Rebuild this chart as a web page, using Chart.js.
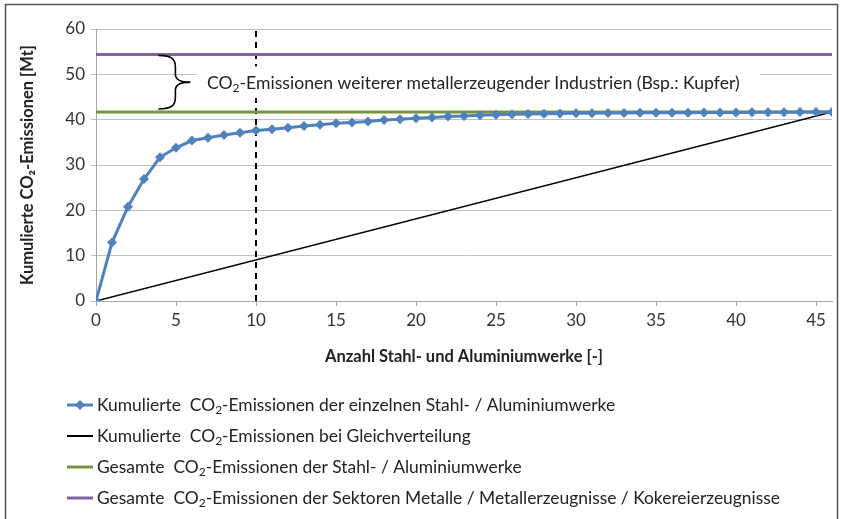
<!DOCTYPE html>
<html>
<head>
<meta charset="utf-8">
<script src="https://cdn.jsdelivr.net/npm/chart.js@4.4.1/dist/chart.umd.min.js"></script>
<style>
html, body { margin: 0; padding: 0; background: #fff; overflow: hidden; }
</style>
</head>
<body>
<canvas id="myChart" width="845" height="519"></canvas>
<script>
// Anzahl Werke (x) und kumulierte Emissionen (y, Mt)
var werke = [0, 1, 2, 3, 4, 5, 6, 7, 8, 9, 10, 11, 12, 13, 14, 15, 16, 17, 18, 19, 20, 21, 22, 23,
    24, 25, 26, 27, 28, 29, 30, 31, 32, 33, 34, 35, 36, 37, 38, 39, 40, 41, 42, 43, 44, 45, 46];
var kumuliert = [0, 12.9, 20.8, 26.9, 31.7, 33.8, 35.4, 36.0, 36.6, 37.1, 37.6, 37.9, 38.2, 38.6, 38.9,
    39.2, 39.4, 39.6, 39.9, 40.1, 40.3, 40.5, 40.7, 40.8, 41.0, 41.1, 41.2, 41.25, 41.3, 41.35, 41.4,
    41.4, 41.45, 41.45, 41.5, 41.5, 41.55, 41.55, 41.6, 41.6, 41.6, 41.65, 41.65, 41.65, 41.7, 41.7, 41.7];
var gesamtStahlAlu = 41.7;
var gesamtSektoren = 54.4;
var markierung = 10;
var xTicks = [0, 5, 10, 15, 20, 25, 30, 35, 40, 45];
var yTicks = [0, 10, 20, 30, 40, 50, 60];

var legendParts = [
    ['Kumulierte  ', '-Emissionen der einzelnen Stahl- / Aluminiumwerke'],
    ['Kumulierte  ', '-Emissionen bei Gleichverteilung'],
    ['Gesamte  ', '-Emissionen der Stahl- / Aluminiumwerke'],
    ['Gesamte  ', '-Emissionen der Sektoren Metalle / Metallerzeugnisse / Kokereierzeugnisse']
];
var annotationText = '-Emissionen weiterer metallerzeugender Industrien (Bsp.: Kupfer)';

var FONT = 'Lato, "Open Sans", sans-serif';
var lastX = werke[werke.length - 1];

// text with CO + subscript 2
function drawCO2(ctx, pre, post, x, y, size) {
    ctx.font = size + 'px ' + FONT;
    ctx.textBaseline = 'middle';
    ctx.textAlign = 'left';
    ctx.fillText(pre + 'CO', x, y);
    x += ctx.measureText(pre + 'CO').width;
    ctx.font = Math.round(size * 0.68) + 'px ' + FONT;
    ctx.fillText('2', x, y + size * 0.3);
    x += ctx.measureText('2').width;
    ctx.font = size + 'px ' + FONT;
    ctx.fillText(post, x, y);
}

var extras = {
    id: 'extras',
    beforeDraw: function (chart) {
        var ctx = chart.ctx;
        ctx.save();
        ctx.strokeStyle = '#555';
        ctx.lineWidth = 1.5;
        ctx.strokeRect(5.5, 4.5, 832, 600);
        ctx.restore();
    },
    afterDatasetsDraw: function (chart) {
        var ctx = chart.ctx;
        var xs = chart.scales.x, ys = chart.scales.y;
        var yT = ys.getPixelForValue(gesamtSektoren) + 1;
        var yB = ys.getPixelForValue(gesamtStahlAlu) - 3;
        var yM = (yT + yB) / 2;
        ctx.save();
        ctx.fillStyle = '#fff';
        ctx.fillRect(196, yT + 11, 564, yB - yT - 22);
        var x0 = xs.getPixelForValue(3.9);
        ctx.strokeStyle = '#000';
        ctx.lineWidth = 1.6;
        ctx.beginPath();
        ctx.moveTo(x0, yT);
        ctx.bezierCurveTo(x0 + 14, yT, x0 + 17, yT + 4, x0 + 17, yT + 12);
        ctx.lineTo(x0 + 17, yM - 8);
        ctx.bezierCurveTo(x0 + 17, yM - 2, x0 + 22, yM, x0 + 32, yM);
        ctx.moveTo(x0 + 32, yM);
        ctx.bezierCurveTo(x0 + 22, yM, x0 + 17, yM + 2, x0 + 17, yM + 8);
        ctx.lineTo(x0 + 17, yB - 12);
        ctx.bezierCurveTo(x0 + 17, yB - 4, x0 + 14, yB, x0, yB);
        ctx.stroke();
        ctx.fillStyle = '#222';
        drawCO2(ctx, '', annotationText, 207, yM + 1, 17.6);
        ctx.restore();
    },
    afterDraw: function (chart) {
        var ctx = chart.ctx;
        ctx.save();
        chart.data.datasets.slice(0, 4).forEach(function (ds, i) {
            var y = 405 + i * 31;
            ctx.strokeStyle = ds.borderColor;
            ctx.lineWidth = i === 1 ? 2 : 3;
            ctx.beginPath();
            ctx.moveTo(67, y);
            ctx.lineTo(93, y);
            ctx.stroke();
            if (i === 0) {
                ctx.fillStyle = ds.borderColor;
                ctx.beginPath();
                ctx.moveTo(80, y - 5);
                ctx.lineTo(85, y);
                ctx.lineTo(80, y + 5);
                ctx.lineTo(75, y);
                ctx.closePath();
                ctx.fill();
            }
            ctx.fillStyle = '#222';
            drawCO2(ctx, legendParts[i][0], legendParts[i][1], 97, y, 17.4);
        });
        ctx.restore();
    }
};

var ctx = document.getElementById('myChart').getContext('2d');
var myChart = new Chart(ctx, {
    type: 'line',
    data: {
        datasets: [{
            label: 'Kumulierte CO₂-Emissionen der einzelnen Stahl- / Aluminiumwerke',
            data: werke.map(function (w, i) { return { x: w, y: kumuliert[i] }; }),
            borderColor: '#4F81BD',
            backgroundColor: '#4F81BD',
            borderWidth: 3,
            pointStyle: 'rectRot',
            pointRadius: 5,
            pointBorderWidth: 0,
            tension: 0,
            order: 1
        }, {
            label: 'Kumulierte CO₂-Emissionen bei Gleichverteilung',
            data: [{ x: 0, y: 0 }, { x: lastX, y: gesamtStahlAlu }],
            borderColor: '#000000',
            borderWidth: 1.5,
            pointRadius: 0,
            order: 3
        }, {
            label: 'Gesamte CO₂-Emissionen der Stahl- / Aluminiumwerke',
            data: [{ x: 0, y: gesamtStahlAlu }, { x: lastX, y: gesamtStahlAlu }],
            borderColor: '#77933C',
            borderWidth: 3,
            pointRadius: 0,
            order: 2
        }, {
            label: 'Gesamte CO₂-Emissionen der Sektoren Metalle / Metallerzeugnisse / Kokereierzeugnisse',
            data: [{ x: 0, y: gesamtSektoren }, { x: lastX, y: gesamtSektoren }],
            borderColor: '#8064A2',
            borderWidth: 3,
            pointRadius: 0,
            order: 2
        }, {
            label: 'Markierung',
            data: [{ x: markierung, y: 0 }, { x: markierung, y: 60 }],
            borderColor: '#000000',
            borderWidth: 2,
            borderDash: [6, 5],
            pointRadius: 0,
            order: 4
        }]
    },
    options: {
        responsive: false,
        animation: false,
        devicePixelRatio: 1,
        layout: {
            padding: { left: 18, right: 13, top: 29, bottom: 148 }
        },
        plugins: {
            legend: { display: false },
            tooltip: { enabled: false }
        },
        scales: {
            x: {
                type: 'linear',
                min: 0,
                max: lastX,
                afterBuildTicks: function (scale) {
                    scale.ticks = xTicks.map(function (v) { return { value: v }; });
                },
                afterFit: function (scale) { scale.height = 70; },
                grid: {
                    drawOnChartArea: false,
                    drawTicks: true,
                    tickLength: 5,
                    color: '#a6a6a6'
                },
                border: { color: '#a6a6a6', width: 1 },
                ticks: {
                    color: '#333',
                    padding: 4,
                    font: { family: FONT, size: 17 },
                    maxRotation: 0
                },
                title: {
                    display: true,
                    text: 'Anzahl Stahl- und Aluminiumwerke [-]',
                    color: '#222',
                    font: { family: FONT, size: 16.5, weight: 'bold' },
                    padding: { top: 4 }
                }
            },
            y: {
                min: 0,
                max: 60,
                afterBuildTicks: function (scale) {
                    scale.ticks = yTicks.map(function (v) { return { value: v }; });
                },
                afterFit: function (scale) { scale.width = 78; },
                grid: {
                    color: '#bfbfbf',
                    tickLength: 5,
                    lineWidth: 1
                },
                border: { color: '#a6a6a6', width: 1 },
                ticks: {
                    color: '#333',
                    padding: 6,
                    font: { family: FONT, size: 17 }
                },
                title: {
                    display: true,
                    text: 'Kumulierte CO₂-Emissionen [Mt]',
                    color: '#222',
                    font: { family: FONT, size: 16.5, weight: 'bold' },
                    padding: { top: 0, bottom: 0 }
                }
            }
        }
    },
    plugins: [extras]
});
</script>
</body>
</html>
